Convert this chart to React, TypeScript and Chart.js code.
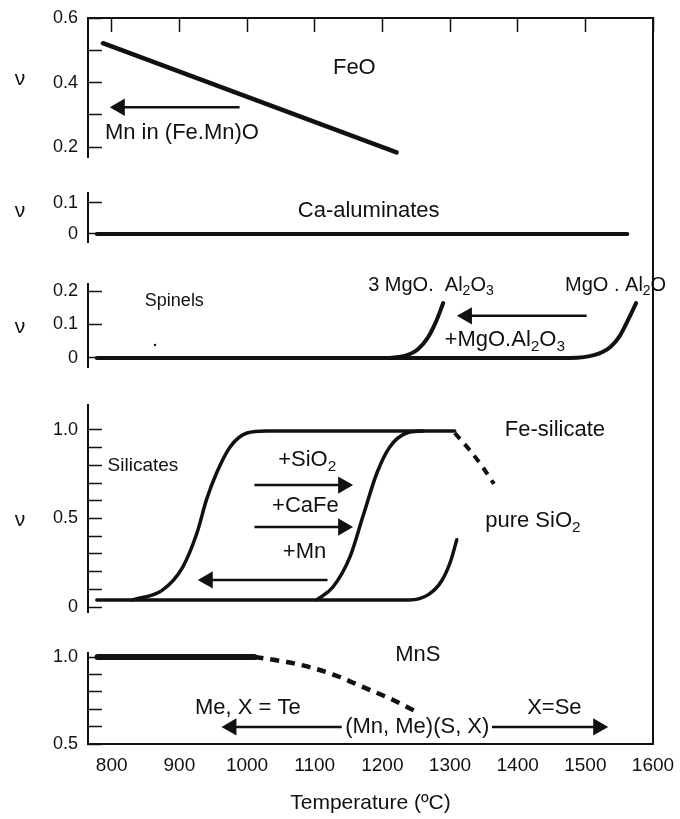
import React, { useEffect, useRef } from 'react';
import { Chart, registerables } from 'chart.js';

Chart.register(...registerables);

const FONT = "'Liberation Sans', Arial, Helvetica, sans-serif";
const NARROW = "'Liberation Sans Narrow', 'Liberation Sans', Arial, sans-serif";
const INK = '#111111';

// ---------- shared temperature axis ----------
const xMin = 765;
const xMax = 1600;
const xStep = 100;
const xTitle = 'Temperature (ºC)';

// ---------- FeO panel ----------
const feoTemp = [787, 1221];
const feoNu = [0.522, 0.184];
const feoArrowTemp = [989, 812];
const feoArrowNu = [0.324, 0.324];
const feoTickLabels = [0.2, 0.4, 0.6];

// ---------- Ca-aluminates panel ----------
const caTemp = [778, 1562];
const caNu = [0, 0];
const caTickLabels = [0, 0.1];

// ---------- Spinels panel ----------
const sp3Temp = [1211, 1233, 1253, 1267, 1279, 1290];
const sp3Nu = [0, 0.006, 0.027, 0.06, 0.107, 0.164];
const sp1Temp = [778, 1477, 1514, 1537, 1551, 1563, 1575];
const sp1Nu = [0, 0, 0.009, 0.033, 0.066, 0.113, 0.164];
const spArrowTemp = [1502, 1325];
const spArrowNu = [0.126, 0.126];
const spDotTemp = [864];
const spDotNu = [0.039];
const spTickLabels = [0, 0.1, 0.2];

// ---------- Silicates panel ----------
const siATemp = [831, 875, 905, 926, 940, 955, 975, 1000, 1029, 1307];
const siANu = [0.04, 0.096, 0.226, 0.418, 0.605, 0.757, 0.904, 0.983, 0.994, 0.994];
const siBTemp = [1103, 1127, 1152, 1171, 1192, 1211, 1236, 1260];
const siBNu = [0.04, 0.113, 0.282, 0.508, 0.757, 0.904, 0.983, 0.994];
const siCTemp = [778, 1240, 1268, 1288, 1301, 1310];
const siCNu = [0.04, 0.04, 0.07, 0.15, 0.26, 0.38];
const siDashTemp = [1307, 1329, 1347, 1365];
const siDashNu = [0.983, 0.887, 0.797, 0.695];
const siO2ArrowTemp = [1011, 1142];
const siO2ArrowNu = [0.689, 0.689];
const caFeArrowTemp = [1011, 1142];
const caFeArrowNu = [0.452, 0.452];
const mnArrowTemp = [1119, 942];
const mnArrowNu = [0.153, 0.153];
const siTickLabels = [0, 0.5, 1.0];

// ---------- MnS panel ----------
const mnsSolidTemp = [779, 1011];
const mnsSolidNu = [1.0, 1.0];
const mnsDashTemp = [1011, 1059, 1097, 1137, 1171, 1216, 1251];
const mnsDashNu = [1.0, 0.971, 0.937, 0.885, 0.828, 0.753, 0.684];
const mnsLeftArrowTemp = [1140, 977];
const mnsLeftArrowNu = [0.598, 0.598];
const mnsRightArrowTemp = [1362, 1519];
const mnsRightArrowNu = [0.598, 0.598];
const mnsTickLabels = [0.5, 1.0];

// ---------- text annotations (data coordinates) ----------
type Note = { text: string; t: number; v: number; axis: string; size: number; family?: string };
const notes: Note[] = [
  { text: 'FeO', t: 1127, v: 0.445, axis: 'yFeo', size: 22 },
  { text: 'Mn in (Fe.Mn)O', t: 790, v: 0.243, axis: 'yFeo', size: 22 },
  { text: 'Ca-aluminates', t: 1075, v: 0.074, axis: 'yCa', size: 22 },
  { text: 'Spinels', t: 849, v: 0.17, axis: 'ySp', size: 18 },
  { text: '3 MgO.  Al{2}O{3}', t: 1179, v: 0.218, axis: 'ySp', size: 20, family: NARROW },
  { text: 'MgO . Al{2}O', t: 1470, v: 0.218, axis: 'ySp', size: 20 },
  { text: '+MgO.Al{2}O{3}', t: 1292, v: 0.054, axis: 'ySp', size: 22 },
  { text: 'Silicates', t: 794, v: 0.797, axis: 'ySi', size: 19 },
  { text: '+SiO{2}', t: 1046, v: 0.831, axis: 'ySi', size: 22 },
  { text: '+CaFe', t: 1037, v: 0.571, axis: 'ySi', size: 22 },
  { text: '+Mn', t: 1053, v: 0.311, axis: 'ySi', size: 22 },
  { text: 'Fe-silicate', t: 1381, v: 1.0, axis: 'ySi', size: 22 },
  { text: 'pure SiO{2}', t: 1352, v: 0.486, axis: 'ySi', size: 22 },
  { text: 'MnS', t: 1219, v: 1.011, axis: 'yMnS', size: 22 },
  { text: 'Me, X = Te', t: 923, v: 0.707, axis: 'yMnS', size: 22 },
  { text: '(Mn, Me)(S, X)', t: 1145, v: 0.598, axis: 'yMnS', size: 22 },
  { text: 'X=Se', t: 1414, v: 0.707, axis: 'yMnS', size: 22 },
];
const nuLabels = [
  { axis: 'yFeo', v: 0.41 },
  { axis: 'yCa', v: 0.074 },
  { axis: 'ySp', v: 0.093 },
  { axis: 'ySi', v: 0.49 },
];

const pts = (t: number[], v: number[]) => t.map((x, i) => ({ x, y: v[i] }));

function drawRich(ctx: CanvasRenderingContext2D, text: string, x: number, y: number, size: number, family: string) {
  const parts: { s: string; sub: boolean }[] = [];
  const re = /\{([^}]*)\}|([^{]+)/g;
  let m: RegExpExecArray | null;
  while ((m = re.exec(text))) {
    if (m[1] !== undefined) parts.push({ s: m[1], sub: true });
    else parts.push({ s: m[2], sub: false });
  }
  ctx.textAlign = 'left';
  ctx.textBaseline = 'middle';
  let cx = x;
  for (const p of parts) {
    const fs = p.sub ? size * 0.7 : size;
    ctx.font = `${fs}px ${family}`;
    ctx.fillText(p.s, cx, p.sub ? y + size * 0.32 : y);
    cx += ctx.measureText(p.s).width;
  }
}

const textPlugin = {
  id: 'panelText',
  afterDatasetsDraw(chart: any) {
    const ctx: CanvasRenderingContext2D = chart.ctx;
    const xs = chart.scales.x;
    ctx.save();
    ctx.fillStyle = INK;
    for (const n of notes) {
      const ys = chart.scales[n.axis];
      drawRich(ctx, n.text, xs.getPixelForValue(n.t), ys.getPixelForValue(n.v), n.size, n.family ?? FONT);
    }
    ctx.font = `21px ${FONT}`;
    ctx.textAlign = 'center';
    ctx.textBaseline = 'middle';
    for (const n of nuLabels) {
      ctx.fillText('ν', 20, chart.scales[n.axis].getPixelForValue(n.v));
    }
    ctx.restore();
  },
};

function curve(t: number[], v: number[], axis: string, width: number, extra: any = {}) {
  return {
    data: pts(t, v),
    yAxisID: axis,
    borderColor: INK,
    borderWidth: width,
    pointRadius: 0,
    fill: false,
    cubicInterpolationMode: 'monotone',
    borderCapStyle: 'round',
    ...extra,
  };
}

function arrow(t: number[], v: number[], axis: string, dir: number) {
  return {
    data: pts(t, v),
    yAxisID: axis,
    borderColor: INK,
    borderWidth: 2.5,
    fill: false,
    pointStyle: 'triangle',
    pointRotation: dir,
    pointRadius: (c: any) => (c.dataIndex === 1 ? 10 : 0),
    pointBackgroundColor: INK,
    pointBorderColor: INK,
    pointBorderWidth: 0,
  };
}

const fitLeft = (s: any) => {
  s.width = 88;
  s.paddingTop = 0;
  s.paddingBottom = 0;
};

function panel(min: number, max: number, weight: number, stackWeight: number, labels: number[]) {
  const top = Math.max(...labels);
  return {
    type: 'linear',
    position: 'left',
    stack: 'v',
    stackWeight,
    weight,
    min,
    max,
    afterFit: fitLeft,
    border: { display: true, color: INK, width: 2 },
    grid: { display: true, drawOnChartArea: false, drawTicks: true, tickLength: -14, tickColor: INK, tickWidth: 1.5 },
    ticks: {
      stepSize: 0.1,
      includeBounds: false,
      maxTicksLimit: 100,
      autoSkip: false,
      padding: 24,
      color: INK,
      font: { size: 18, family: FONT },
      callback: (val: number) => {
        const r = Math.round(val * 10) / 10;
        if (r > top + 1e-6) return null;
        if (labels.some((l) => Math.abs(l - r) < 1e-6)) return r === 0 ? '0' : r.toFixed(1);
        return '';
      },
    },
  };
}

function spacer(weight: number, stackWeight: number) {
  return {
    type: 'linear',
    position: 'left',
    stack: 'v',
    stackWeight,
    weight,
    display: false,
    min: 0,
    max: 1,
    afterFit: fitLeft,
  };
}

export default function App() {
  const ref = useRef<HTMLCanvasElement>(null);
  useEffect(() => {
    Chart.defaults.font.family = FONT;
    Chart.defaults.color = INK;
    const datasets: any[] = [
      curve(feoTemp, feoNu, 'yFeo', 4.5, { cubicInterpolationMode: 'default' }),
      arrow(feoArrowTemp, feoArrowNu, 'yFeo', -90),
      curve(caTemp, caNu, 'yCa', 4),
      curve(sp3Temp, sp3Nu, 'ySp', 4),
      curve(sp1Temp, sp1Nu, 'ySp', 4),
      arrow(spArrowTemp, spArrowNu, 'ySp', -90),
      { data: pts(spDotTemp, spDotNu), yAxisID: 'ySp', showLine: false, pointRadius: 1.2, pointBackgroundColor: INK, pointBorderWidth: 0 },
      curve(siCTemp, siCNu, 'ySi', 3.5),
      curve(siATemp, siANu, 'ySi', 3.5),
      curve(siBTemp, siBNu, 'ySi', 3.5),
      curve(siDashTemp, siDashNu, 'ySi', 4, { borderDash: [8, 7], borderCapStyle: 'butt' }),
      arrow(siO2ArrowTemp, siO2ArrowNu, 'ySi', 90),
      arrow(caFeArrowTemp, caFeArrowNu, 'ySi', 90),
      arrow(mnArrowTemp, mnArrowNu, 'ySi', -90),
      curve(mnsSolidTemp, mnsSolidNu, 'yMnS', 6),
      curve(mnsDashTemp, mnsDashNu, 'yMnS', 4.5, { borderDash: [9, 7], borderCapStyle: 'butt' }),
      arrow(mnsLeftArrowTemp, mnsLeftArrowNu, 'yMnS', -90),
      arrow(mnsRightArrowTemp, mnsRightArrowNu, 'yMnS', 90),
    ];
    const chart = new Chart(ref.current as HTMLCanvasElement, {
      type: 'line',
      data: { datasets },
      plugins: [textPlugin],
      options: {
        animation: false,
        responsive: false,
        events: [],
        layout: { padding: { top: 18, right: 27, bottom: 0, left: 0 } },
        plugins: { legend: { display: false }, tooltip: { enabled: false } },
        scales: {
          x: {
            type: 'linear',
            position: 'bottom',
            min: xMin,
            max: xMax,
            afterFit: (s: any) => {
              s.height = 75;
              s.paddingLeft = 0;
              s.paddingRight = 0;
            },
            border: { display: true, color: INK, width: 2 },
            grid: { display: false, drawTicks: false },
            ticks: {
              stepSize: xStep,
              includeBounds: false,
              autoSkip: false,
              maxRotation: 0,
              padding: 10,
              color: INK,
              font: { size: 19, family: FONT },
              callback: (v: number) => String(v),
            },
            title: { display: true, text: xTitle, color: INK, font: { size: 21, family: FONT }, padding: { top: 0, bottom: 3 } },
          },
          xTop: {
            type: 'linear',
            position: 'top',
            min: xMin,
            max: xMax,
            afterFit: (s: any) => {
              s.height = 0;
              s.paddingLeft = 0;
              s.paddingRight = 0;
            },
            border: { display: true, color: INK, width: 2 },
            grid: { display: true, drawOnChartArea: false, drawTicks: true, tickLength: -14, tickColor: INK, tickWidth: 1.5 },
            ticks: { display: false, stepSize: xStep, includeBounds: false, autoSkip: false },
          },
          yRight: {
            type: 'linear',
            position: 'right',
            min: 0,
            max: 1,
            afterFit: (s: any) => {
              s.width = 0;
              s.paddingTop = 0;
              s.paddingBottom = 0;
            },
            border: { display: true, color: INK, width: 2 },
            grid: { display: false },
            ticks: { display: false },
          },
          yFeo: panel(0.17, 0.6, 9, 139, feoTickLabels),
          gap1: spacer(8, 36),
          yCa: panel(-0.026, 0.132, 7, 49, caTickLabels),
          gap2: spacer(6, 42),
          ySp: panel(-0.027, 0.221, 5, 83, spTickLabels),
          gap3: spacer(4, 38),
          ySi: panel(-0.028, 1.141, 3, 207, siTickLabels),
          gap4: spacer(2, 41),
          yMnS: panel(0.5, 1.023, 1, 91, mnsTickLabels),
        } as any,
      },
    } as any);
    return () => chart.destroy();
  }, []);
  return (
    <div style={{ position: 'absolute', left: 0, top: 0, width: 680, height: 819, background: '#fff' }}>
      <canvas ref={ref} width={680} height={819} style={{ display: 'block' }} />
    </div>
  );
}
